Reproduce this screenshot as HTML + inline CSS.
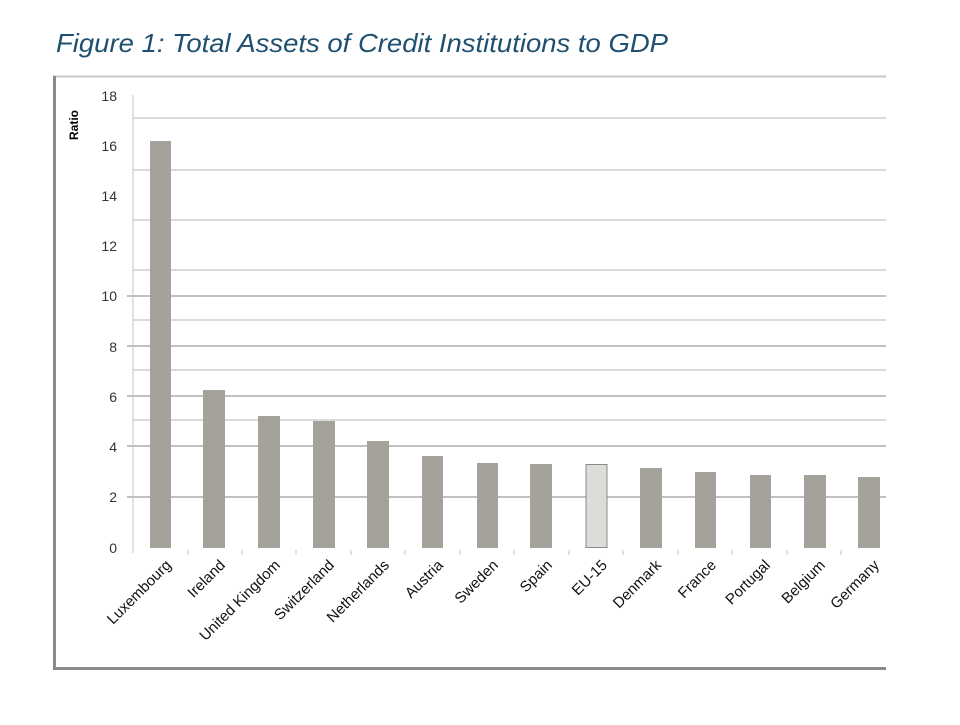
<!DOCTYPE html>
<html><head><style>
body{margin:0;background:#fff;width:960px;height:720px;overflow:hidden;}
</style></head><body>
<svg width="960" height="720" xmlns="http://www.w3.org/2000/svg" font-family="Liberation Sans, sans-serif">
<text x="56" y="52" font-size="26" font-style="italic" fill="#1f5070" textLength="612" lengthAdjust="spacingAndGlyphs">Figure 1: Total Assets of Credit Institutions to GDP</text>
<line x1="53" y1="76.5" x2="886" y2="76.5" stroke="#c8c8c8" stroke-width="2"/>
<line x1="54.5" y1="76" x2="54.5" y2="670" stroke="#8a8a8a" stroke-width="3"/>
<line x1="53" y1="668.5" x2="886" y2="668.5" stroke="#8a8a8a" stroke-width="3"/>
<g stroke="#c4c4c4" stroke-width="1.3">
<line x1="133" y1="118" x2="886" y2="118"/>
<line x1="133" y1="170" x2="886" y2="170"/>
<line x1="133" y1="220" x2="886" y2="220"/>
<line x1="133" y1="270" x2="886" y2="270"/>
<line x1="133" y1="320" x2="886" y2="320"/>
<line x1="133" y1="370" x2="886" y2="370"/>
<line x1="133" y1="420" x2="886" y2="420"/>
</g>
<g stroke="#9a9a9a" stroke-width="1.3">
<line x1="127" y1="296" x2="886" y2="296"/>
<line x1="127" y1="346" x2="886" y2="346"/>
<line x1="127" y1="396" x2="886" y2="396"/>
<line x1="127" y1="446" x2="886" y2="446"/>
<line x1="127" y1="497" x2="886" y2="497"/>
</g>
<line x1="133" y1="95" x2="133" y2="553" stroke="#c4c4c4"/>
<g fill="#a5a29b">
<rect x="150" y="141" width="21" height="407"/>
<rect x="203" y="390" width="22" height="158"/>
<rect x="258" y="416" width="22" height="132"/>
<rect x="313" y="421" width="22" height="127"/>
<rect x="367" y="441" width="22" height="107"/>
<rect x="422" y="456" width="21" height="92"/>
<rect x="477" y="463" width="21" height="85"/>
<rect x="530" y="464" width="22" height="84"/>
<rect x="640" y="468" width="22" height="80"/>
<rect x="695" y="472" width="21" height="76"/>
<rect x="750" y="475" width="21" height="73"/>
<rect x="804" y="475" width="22" height="73"/>
<rect x="858" y="477" width="22" height="71"/>
</g>
<rect x="586" y="464.5" width="21" height="83" fill="#dcdcd8" stroke="#8a8a8a" stroke-width="1"/>
<g stroke="#c4c4c4">
<line x1="188" y1="550" x2="188" y2="555"/><line x1="242" y1="550" x2="242" y2="555"/>
<line x1="296" y1="550" x2="296" y2="555"/><line x1="351" y1="550" x2="351" y2="555"/>
<line x1="405" y1="550" x2="405" y2="555"/><line x1="460" y1="550" x2="460" y2="555"/>
<line x1="514" y1="550" x2="514" y2="555"/><line x1="569" y1="550" x2="569" y2="555"/>
<line x1="623" y1="550" x2="623" y2="555"/><line x1="678" y1="550" x2="678" y2="555"/>
<line x1="732" y1="550" x2="732" y2="555"/><line x1="787" y1="550" x2="787" y2="555"/>
<line x1="841" y1="550" x2="841" y2="555"/>
</g>
<g font-size="14" fill="#333" text-anchor="end">
<text x="117" y="101">18</text><text x="117" y="151">16</text><text x="117" y="201">14</text>
<text x="117" y="251">12</text><text x="117" y="301">10</text><text x="117" y="352">8</text>
<text x="117" y="402">6</text><text x="117" y="452">4</text><text x="117" y="502">2</text>
<text x="117" y="553">0</text>
</g>
<text transform="translate(78,125) rotate(-90)" font-size="12" font-weight="bold" text-anchor="middle">Ratio</text>
<g font-size="15" fill="#111" text-anchor="end">
<text transform="translate(172,566) rotate(-45)">Luxembourg</text>
<text transform="translate(226,566) rotate(-45)">Ireland</text>
<text transform="translate(281,566) rotate(-45)">United Kingdom</text>
<text transform="translate(335,566) rotate(-45)">Switzerland</text>
<text transform="translate(390,566) rotate(-45)">Netherlands</text>
<text transform="translate(444,566) rotate(-45)">Austria</text>
<text transform="translate(499,566) rotate(-45)">Sweden</text>
<text transform="translate(553,566) rotate(-45)">Spain</text>
<text transform="translate(608,566) rotate(-45)">EU-15</text>
<text transform="translate(662,566) rotate(-45)">Denmark</text>
<text transform="translate(717,566) rotate(-45)">France</text>
<text transform="translate(771,566) rotate(-45)">Portugal</text>
<text transform="translate(826,566) rotate(-45)">Belgium</text>
<text transform="translate(880,566) rotate(-45)">Germany</text>
</g>
</svg>
</body></html>
